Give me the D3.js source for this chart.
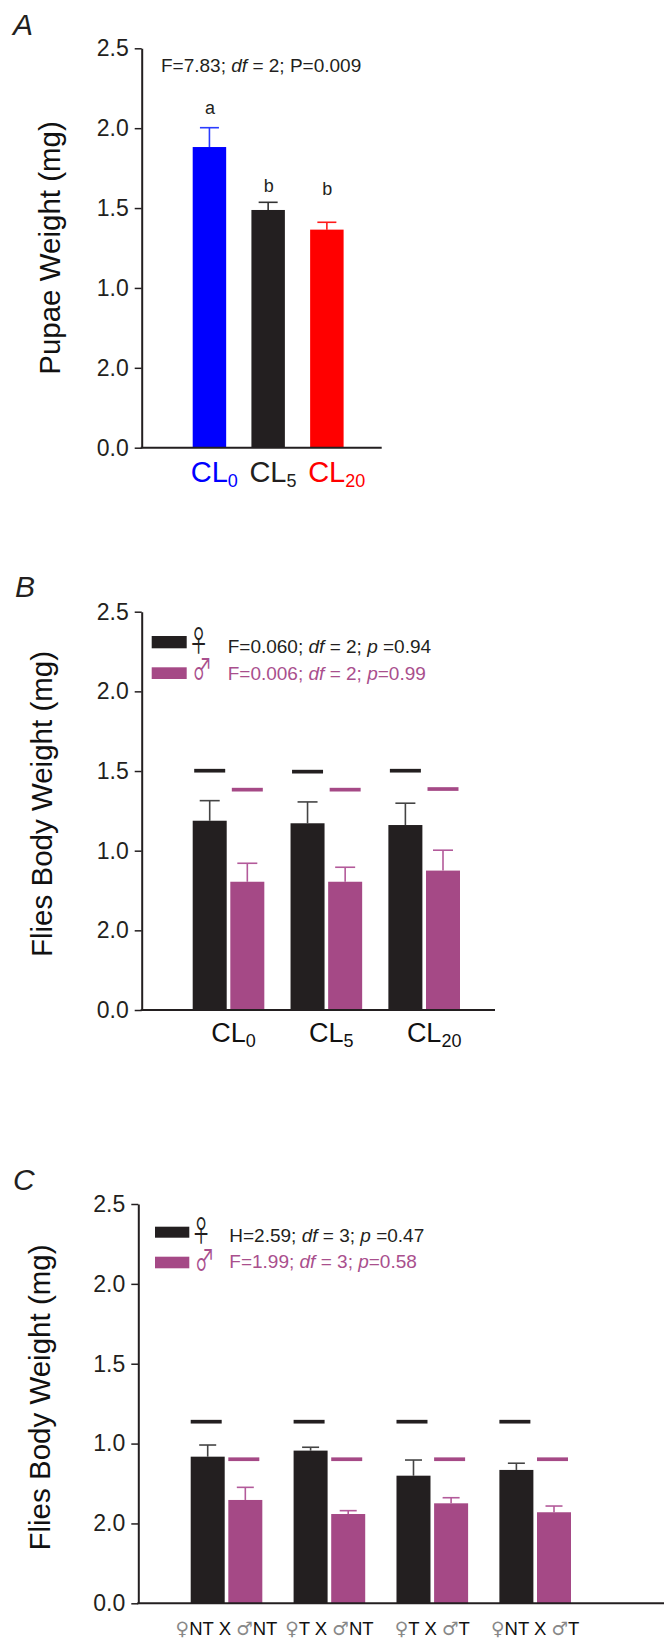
<!DOCTYPE html>
<html>
<head>
<meta charset="utf-8">
<script src="https://cdn.jsdelivr.net/npm/d3@7"></script>
<style>
  body { margin: 0; background: #fff; }
  svg { display: block; }
  text { font-family: "Liberation Sans", Arial, Helvetica, sans-serif; }
</style>
</head>
<body>
<div id="chart"></div>
<script>
// ---------- shared ----------
const tickValues = [0, 0.5, 1, 1.5, 2, 2.5];
const tickLabels = ["0.0", "2.0", "1.0", "1.5", "2.0", "2.5"];

// ---------- Panel A: pupae weight ----------
const catsA = ["CL0", "CL5", "CL20"];
const catsAMain = ["CL", "CL", "CL"];
const catsASub = ["0", "5", "20"];
const pupaeMean = [1.882, 1.488, 1.365];
const pupaeErr = [0.121, 0.048, 0.046];
const pupaeLetters = ["a", "b", "b"];
const pupaeLetterY = [2.09, 1.60, 1.58];
const statA = ["F=7.83; ", "df", " = 2; P=0.009"];

// ---------- Panel B: flies body weight by diet ----------
const catsB = ["CL0", "CL5", "CL20"];
const catsBSub = ["0", "5", "20"];
const sexes = ["female", "male"];
const femaleB = [1.188, 1.172, 1.161];
const femaleErrB = [0.126, 0.134, 0.137];
const maleB = [0.805, 0.805, 0.875];
const maleErrB = [0.116, 0.091, 0.128];
const femaleRefB = [1.502, 1.496, 1.502];
const maleRefB = [1.383, 1.383, 1.387];
const statBF = ["F=0.060; ", "df", " = 2; ", "p", " =0.94"];
const statBM = ["F=0.006; ", "df", " = 2; ", "p", "=0.99"];

// ---------- Panel C: flies body weight by cross ----------
const catsC = ["♀NT X ♂NT", "♀T X ♂NT", "♀T X ♂T", "♀NT X ♂T"];
const femaleC = [0.918, 0.956, 0.799, 0.835];
const femaleErrC = [0.073, 0.021, 0.098, 0.042];
const maleC = [0.647, 0.559, 0.626, 0.570];
const maleErrC = [0.079, 0.021, 0.035, 0.039];
const femaleRefC = [1.137, 1.137, 1.137, 1.137];
const maleRefC = [0.902, 0.902, 0.902, 0.902];
const statCF = ["H=2.59; ", "df", " = 3; ", "p", " =0.47"];
const statCM = ["F=1.99; ", "df", " = 3; ", "p", "=0.58"];

// ---------- styles ----------
const DARK = "#231f20";
const PURPLE = "#a54986";
const PURPLE_TXT = "#a94f8d";
const colorsA = ["#0000ff", DARK, "#ff0000"];
const errColorsA = ["#2b3cff", "#333", "#ff1a1a"];
const SYMFONT = '"Noto Sans CJK JP", "DejaVu Sans", sans-serif';

const svg = d3.select("#chart").append("svg")
  .attr("width", 664).attr("height", 1639);

function yAxis(g, y, x0) {
  const ax = d3.axisLeft(y).tickValues(tickValues)
    .tickFormat((d, i) => tickLabels[i])
    .tickSize(7).tickSizeOuter(0).tickPadding(6);
  const gg = g.append("g").attr("transform", `translate(${x0},0)`).call(ax);
  gg.select(".domain").attr("stroke", DARK).attr("stroke-width", 2);
  gg.selectAll(".tick line").attr("stroke", DARK).attr("stroke-width", 1.5);
  gg.selectAll(".tick text").attr("fill", DARK)
    .style("font-size", "23px")
    .style("font-family", '"Liberation Sans", Arial, sans-serif');
}

function xLine(g, y, x0, x1) {
  g.append("line").attr("x1", x0 - 1).attr("x2", x1)
    .attr("y1", y(0)).attr("y2", y(0))
    .attr("stroke", DARK).attr("stroke-width", 2);
}

function panelLetter(g, txt, x, yb) {
  g.append("text").attr("x", x).attr("y", yb).text(txt)
    .style("font-size", "30px").style("font-style", "italic").attr("fill", DARK);
}

function yLabel(g, txt, x, yc) {
  g.append("text").attr("transform", `translate(${x},${yc}) rotate(-90)`)
    .attr("text-anchor", "middle").text(txt)
    .style("font-size", "29.5px").attr("fill", "#111");
}

function statText(g, parts, x, yb, color, size) {
  const t = g.append("text").attr("x", x).attr("y", yb)
    .style("font-size", size + "px").attr("fill", color);
  parts.forEach(p => {
    const s = t.append("tspan").text(p);
    if (p === "df" || p === "p") s.style("font-style", "italic");
  });
}

function sexSymbol(g, sym, cx, yb, color) {
  g.append("text").attr("transform", `translate(${cx},${yb}) scale(0.68,1)`)
    .attr("text-anchor", "middle").text(sym)
    .style("font-family", SYMFONT).style("font-size", "29px").attr("fill", color);
}

function errBar(g, cx, yTop, yBar, capW, color) {
  g.append("line").attr("x1", cx).attr("x2", cx).attr("y1", yBar).attr("y2", yTop)
    .attr("stroke", color).attr("stroke-width", 1.6);
  g.append("line").attr("x1", cx - capW / 2).attr("x2", cx + capW / 2)
    .attr("y1", yTop).attr("y2", yTop)
    .attr("stroke", color).attr("stroke-width", 1.6);
}

// ================= Panel A =================
{
  const g = svg.append("g");
  const y = d3.scaleLinear().domain([0, 2.5]).range([447.7, 48.3]);
  const x = d3.scaleBand().domain(catsA).range([192.7, 343.6]).paddingInner(0.43).paddingOuter(0);
  panelLetter(g, "A", 13, 35);
  yLabel(g, "Pupae Weight (mg)", 60, 248);

  catsA.forEach((c, i) => {
    const cx = x(c) + x.bandwidth() / 2;
    errBar(g, cx, y(pupaeMean[i] + pupaeErr[i]), y(pupaeMean[i]), 19, errColorsA[i]);
  });
  g.selectAll("rect.barA").data(catsA).join("rect")
    .attr("x", d => x(d)).attr("width", x.bandwidth())
    .attr("y", (d, i) => y(pupaeMean[i]))
    .attr("height", (d, i) => y(0) - y(pupaeMean[i]))
    .attr("fill", (d, i) => colorsA[i]);

  g.selectAll("text.letA").data(catsA).join("text")
    .attr("x", d => x(d) + x.bandwidth() / 2 + 0.5)
    .attr("y", (d, i) => y(pupaeLetterY[i]))
    .attr("text-anchor", "middle")
    .text((d, i) => pupaeLetters[i])
    .style("font-size", "18px").attr("fill", DARK);

  yAxis(g, y, 141.7);
  xLine(g, y, 141.7, 381.7);
  statText(g, statA, 161, 72, DARK, 19);

  catsA.forEach((c, i) => {
    const t = g.append("text").attr("x", x(c) - 2).attr("y", 481.7)
      .attr("fill", colorsA[i]).style("font-size", "29px");
    t.append("tspan").text(catsAMain[i]);
    t.append("tspan").text(catsASub[i]).attr("dy", 5).style("font-size", "18px");
  });
}

// ================= Panel B =================
{
  const g = svg.append("g");
  const y = d3.scaleLinear().domain([0, 2.5]).range([1010, 611.7]);
  const x = d3.scaleBand().domain(catsB).range([192.7, 460]).paddingInner(0.268).paddingOuter(0);
  const xs = d3.scaleBand().domain(sexes).range([0, x.bandwidth()]).paddingInner(0.096);
  panelLetter(g, "B", 15, 597);
  yLabel(g, "Flies Body Weight (mg)", 51.7, 804);

  const series = [
    { sex: "female", mean: femaleB, err: femaleErrB, ref: femaleRefB, fill: DARK, ec: "#444" },
    { sex: "male", mean: maleB, err: maleErrB, ref: maleRefB, fill: PURPLE, ec: "#b35a9a" }
  ];
  series.forEach(s => {
    catsB.forEach((c, i) => {
      const bx = x(c) + xs(s.sex);
      const cx = bx + xs.bandwidth() / 2;
      errBar(g, cx, y(s.mean[i] + s.err[i]), y(s.mean[i]), 20, s.ec);
      g.append("rect").attr("x", bx).attr("width", xs.bandwidth())
        .attr("y", y(s.mean[i])).attr("height", y(0) - y(s.mean[i]))
        .attr("fill", s.fill);
      g.append("line").attr("x1", cx - 15.5).attr("x2", cx + 15.5)
        .attr("y1", y(s.ref[i])).attr("y2", y(s.ref[i]))
        .attr("stroke", s.fill).attr("stroke-width", 3.7);
    });
  });

  yAxis(g, y, 141.7);
  xLine(g, y, 141.7, 495);

  // legend
  g.append("rect").attr("x", 151.7).attr("y", 636).attr("width", 35).attr("height", 12.3).attr("fill", DARK);
  g.append("rect").attr("x", 151.7).attr("y", 667.3).attr("width", 35).attr("height", 11.7).attr("fill", PURPLE);
  sexSymbol(g, "♀", 198.5, 652, DARK);
  sexSymbol(g, "♂", 202, 680, PURPLE_TXT);
  statText(g, statBF, 227.7, 652.7, DARK, 19);
  statText(g, statBM, 227.7, 680, PURPLE_TXT, 19);

  catsB.forEach((c, i) => {
    const t = g.append("text").attr("x", x(c) + 18.5).attr("y", 1041.7)
      .attr("fill", "#111").style("font-size", "27px");
    t.append("tspan").text("CL");
    t.append("tspan").text(catsBSub[i]).attr("dy", 5).style("font-size", "18px");
  });
}

// ================= Panel C =================
{
  const g = svg.append("g");
  const y = d3.scaleLinear().domain([0, 2.5]).range([1603.3, 1204]);
  const x = d3.scaleBand().domain(catsC).range([190.7, 571]).paddingInner(0.304).paddingOuter(0);
  const xs = d3.scaleBand().domain(sexes).range([0, x.bandwidth()]).paddingInner(0.096);
  panelLetter(g, "C", 13, 1190);
  yLabel(g, "Flies Body Weight (mg)", 50, 1397.5);

  const series = [
    { sex: "female", mean: femaleC, err: femaleErrC, ref: femaleRefC, fill: DARK, ec: "#444" },
    { sex: "male", mean: maleC, err: maleErrC, ref: maleRefC, fill: PURPLE, ec: "#b35a9a" }
  ];
  series.forEach(s => {
    catsC.forEach((c, i) => {
      const bx = x(c) + xs(s.sex);
      const cx = bx + xs.bandwidth() / 2;
      errBar(g, cx, y(s.mean[i] + s.err[i]), y(s.mean[i]), 17, s.ec);
      g.append("rect").attr("x", bx).attr("width", xs.bandwidth())
        .attr("y", y(s.mean[i])).attr("height", y(0) - y(s.mean[i]))
        .attr("fill", s.fill);
      g.append("line").attr("x1", bx).attr("x2", bx + 31)
        .attr("y1", y(s.ref[i])).attr("y2", y(s.ref[i]))
        .attr("stroke", s.fill).attr("stroke-width", 3.7);
    });
  });

  yAxis(g, y, 138.3);
  xLine(g, y, 138.3, 664);

  // legend
  g.append("rect").attr("x", 155).attr("y", 1226.7).attr("width", 34.3).attr("height", 11).attr("fill", DARK);
  g.append("rect").attr("x", 155).attr("y", 1256.7).attr("width", 34.3).attr("height", 11.6).attr("fill", PURPLE);
  sexSymbol(g, "♀", 201, 1241.5, DARK);
  sexSymbol(g, "♂", 204.5, 1270.5, PURPLE_TXT);
  statText(g, statCF, 229.3, 1241.7, DARK, 19);
  statText(g, statCM, 229.3, 1268.3, PURPLE_TXT, 19);

  // x labels with grey sex symbols
  catsC.forEach(c => {
    const t = g.append("text").attr("x", x(c) + x.bandwidth() / 2).attr("y", 1635)
      .attr("text-anchor", "middle").style("font-size", "18.5px").attr("fill", "#111");
    const parts = c.split(/([♀♂])/).filter(p => p.length);
    parts.forEach(p => {
      const s = t.append("tspan").text(p);
      if (p === "♀" || p === "♂") s.attr("fill", "#888").style("font-family", '"DejaVu Sans", sans-serif');
    });
  });
}
</script>
</body>
</html>
